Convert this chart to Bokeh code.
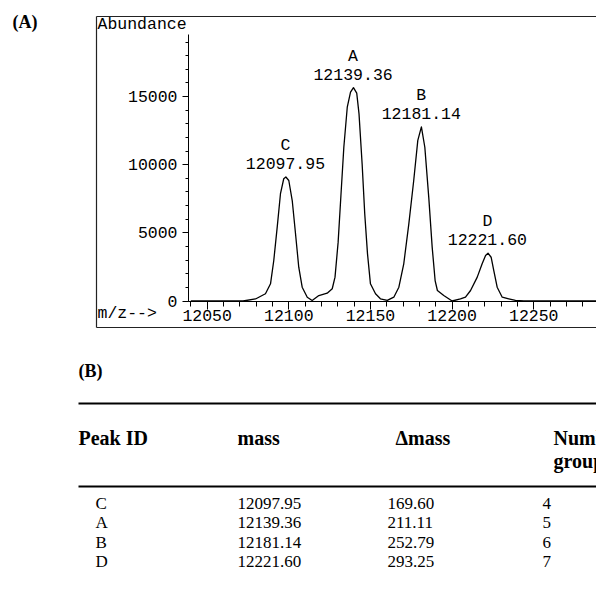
from bokeh.plotting import figure
from bokeh.models import LinearAxis, SingleIntervalTicker, Range1d
from bokeh.layouts import column
from bokeh.embed import file_html
from bokeh.resources import INLINE
from bokeh.core.properties import value

# ---------------- data ----------------
mz = [12040, 12072, 12079.6, 12085.7, 12088.8, 12090.8, 12092.9, 12094.9, 12096.9, 12098.2,
      12100.0, 12102.1, 12104.1, 12106.1, 12108.2, 12111.3, 12114.3, 12118.4, 12123.5, 12126.6,
      12128.3, 12130.2, 12131.9, 12133.7, 12135.8, 12137.8, 12139.6, 12141.6, 12143.0, 12144.9,
      12146.5, 12148.2, 12150.0, 12153.1, 12156.1, 12160.3, 12164.3, 12167.4, 12170.4, 12173.5,
      12176.5, 12179.0, 12181.2, 12183.3, 12185.7, 12187.8, 12189.6, 12191.0, 12194.9, 12200.0,
      12205.1, 12208.2, 12211.3, 12215.4, 12218.4, 12220.5, 12222.0, 12223.9, 12225.5, 12227.6,
      12230.7, 12234.7, 12238.8, 12244.0, 12300]
abundance = [0, 0, 150, 530, 1260, 2970, 5420, 7870, 8970, 9100,
             8840, 7370, 4950, 2480, 1010, 280, 30, 400, 570, 900,
             1750, 4300, 7700, 11280, 14220, 15320, 15650, 15250, 13730, 10070,
             6400, 3460, 1260, 530, 160, 40, 280, 1010, 2730, 5660,
             8840, 11780, 12780, 11280, 7620, 3950, 1500, 770, 400, 0,
             160, 280, 770, 1750, 2730, 3340, 3510, 3210, 2240, 1010,
             280, 160, 40, 0, 0]

peak_ids = ["C", "A", "B", "D"]
peak_mass = [12097.95, 12139.36, 12181.14, 12221.60]
peak_height = [9100, 15650, 12780, 3510]

table_headers = ["Peak ID", "mass", "\u0394mass", "Number of"]
table_header2 = ["groups"]
table_ids = ["C", "A", "B", "D"]
table_mass = ["12097.95", "12139.36", "12181.14", "12221.60"]
table_dmass = ["169.60", "211.11", "252.79", "293.25"]
table_groups = ["4", "5", "6", "7"]

# ---------------- layout (pixels) ----------------
W, H1, H2 = 596, 348, 244
X0_PX, PX_PER_MZ = 125.0, 1.633      # pixel of m/z 12000, pixels per m/z unit
BASE_PX, PX_PER_AB = 300.5, 0.01363  # pixel of abundance 0, pixels per count

def mz_at(px):
    return 12000 + (px - X0_PX) / PX_PER_MZ

def ab_at(py):
    return (BASE_PX - py) / PX_PER_AB

MONO = "Liberation Mono"
SERIF = "Liberation Serif"
MONO_SIZE = "16.5px"

p = figure(width=W, height=H1, output_backend="svg", toolbar_location=None,
           x_range=Range1d(mz_at(0), mz_at(W)), y_range=Range1d(ab_at(H1), ab_at(0)),
           x_axis_location=None, y_axis_location=None,
           min_border=0, min_border_left=0, min_border_right=0,
           min_border_top=0, min_border_bottom=0,
           outline_line_color=None, background_fill_color="white",
           border_fill_color="white")
p.grid.visible = False

yaxis_mz = mz_at(188)

xa = LinearAxis(fixed_location=0, bounds=(yaxis_mz, mz_at(W) + 10),
                ticker=SingleIntervalTicker(interval=50, num_minor_ticks=5))
xa.major_tick_out = 8
xa.major_tick_in = 0
xa.minor_tick_out = 5
xa.minor_tick_in = 0
xa.major_label_standoff = 1
xa.major_label_text_font = MONO
xa.major_label_text_font_size = MONO_SIZE
xa.major_label_text_color = "black"
xa.axis_line_color = "black"
xa.major_tick_line_color = "black"
xa.minor_tick_line_color = "black"
p.add_layout(xa, "below")

ya = LinearAxis(fixed_location=yaxis_mz, bounds=(0, ab_at(34)),
                ticker=SingleIntervalTicker(interval=5000, num_minor_ticks=5))
ya.major_tick_out = 6
ya.major_tick_in = 0
ya.minor_tick_out = 3
ya.minor_tick_in = 0
ya.major_label_standoff = 5
ya.major_label_text_font = MONO
ya.major_label_text_font_size = MONO_SIZE
ya.major_label_text_color = "black"
ya.axis_line_color = "black"
ya.major_tick_line_color = "black"
ya.minor_tick_line_color = "black"
p.add_layout(ya, "left")

# outer frame of the instrument printout
p.multi_line(xs=[[mz_at(96), mz_at(96)], [mz_at(96), mz_at(W) + 5], [mz_at(96), mz_at(W) + 5]],
             ys=[[ab_at(16), ab_at(327)], [ab_at(16), ab_at(16)], [ab_at(327), ab_at(327)]],
             line_color="#222222", line_width=1.2)

p.line(mz, abundance, line_color="black", line_width=1.3, line_join="round")

peak_labels = [f"{i}\n{m:.2f}" for i, m in zip(peak_ids, peak_mass)]
p.text(x=peak_mass, y=peak_height, text=peak_labels, text_font=value(MONO),
       text_font_size=MONO_SIZE, text_align="center", text_baseline="bottom",
       y_offset=-3, text_line_height=1.0, text_color="black")

p.text(x=[mz_at(97)], y=[ab_at(24)], text=["Abundance"], text_font=value(MONO),
       text_font_size=MONO_SIZE, text_align="left", text_baseline="middle", text_color="black")
p.text(x=[mz_at(97)], y=[ab_at(313)], text=["m/z-->"], text_font=value(MONO),
       text_font_size=MONO_SIZE, text_align="left", text_baseline="middle", text_color="black")
p.text(x=[mz_at(12)], y=[ab_at(21.5)], text=["(A)"], text_font=value(SERIF),
       text_font_style="bold", text_font_size="18px", text_align="left",
       text_baseline="middle", text_color="black")

# ---------------- table panel ----------------
t = figure(width=W, height=H2, output_backend="svg", toolbar_location=None,
           x_range=Range1d(0, W), y_range=Range1d(H2, 0),
           x_axis_location=None, y_axis_location=None,
           min_border=0, min_border_left=0, min_border_right=0,
           min_border_top=0, min_border_bottom=0,
           outline_line_color=None, background_fill_color="white",
           border_fill_color="white")
t.grid.visible = False

t.text(x=[78], y=[22.5], text=["(B)"], text_font=value(SERIF), text_font_style="bold",
       text_font_size="18px", text_baseline="middle", text_color="black")
t.segment(x0=[78, 78], x1=[W, W], y0=[55, 138], y1=[55, 138],
          line_color="black", line_width=2)

col_x_head = [78, 237, 395, 553]
t.text(x=col_x_head, y=[89] * 4, text=table_headers, text_font=value(SERIF),
       text_font_style="bold", text_font_size="20px", text_baseline="middle",
       text_color="black")
t.text(x=[553], y=[112], text=table_header2, text_font=value(SERIF),
       text_font_style="bold", text_font_size="20px", text_baseline="middle",
       text_color="black")

row_y = [155, 174.3, 193.6, 213]
for cx, col in zip([95, 237, 387, 542], [table_ids, table_mass, table_dmass, table_groups]):
    t.text(x=[cx] * len(col), y=row_y, text=col, text_font=value(SERIF),
           text_font_size="17px", text_baseline="middle", text_color="black")

layout = column(p, t, spacing=0)
open("out.html", "w").write(file_html(layout, INLINE))
